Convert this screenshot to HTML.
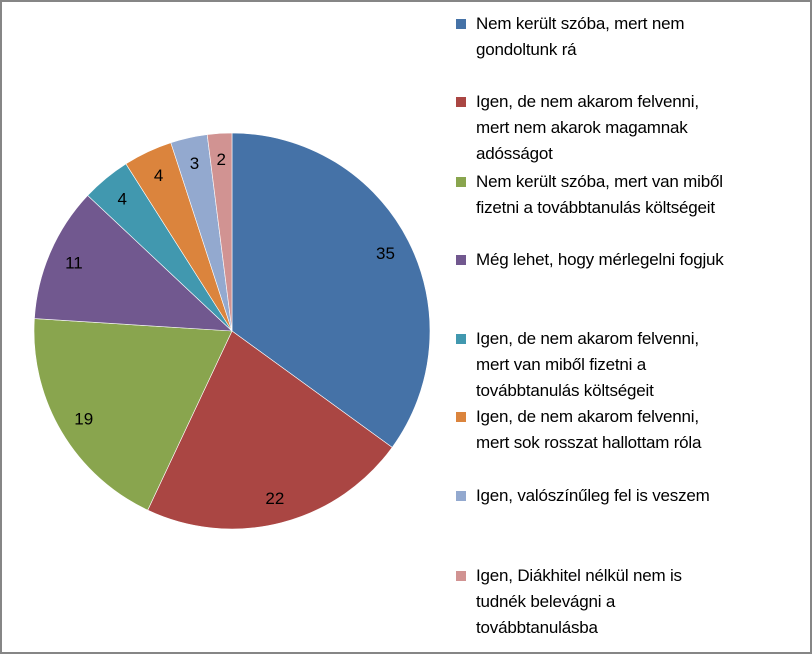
<!DOCTYPE html>
<html><head><meta charset="utf-8"><style>
body{margin:0;background:#fff}
#wrap{position:relative;width:808px;height:650px;border:2px solid #868686;background:#fff;overflow:hidden}
.leg{position:absolute;left:454px;font:17px "Liberation Sans",sans-serif;color:#000;line-height:26px;width:350px}
.sw{position:absolute;left:0;top:8px;width:10px;height:10px}
.lt{margin-left:20px;letter-spacing:-0.2px}
</style></head><body>
<div id="wrap">
<svg id="pie" width="450" height="650" style="position:absolute;left:0;top:0"></svg>
<div id="legend"></div>
</div>
<script>
const categories=["Nem került szóba, mert nem gondoltunk rá","Igen, de nem akarom felvenni, mert nem akarok magamnak adósságot","Nem került szóba, mert van miből fizetni a továbbtanulás költségeit","Még lehet, hogy mérlegelni fogjuk","Igen, de nem akarom felvenni, mert van miből fizetni a továbbtanulás költségeit","Igen, de nem akarom felvenni, mert sok rosszat hallottam róla","Igen, valószínűleg fel is veszem","Igen, Diákhitel nélkül nem is tudnék belevágni a továbbtanulásba"];
const legendLines=[["Nem került szóba, mert nem","gondoltunk rá"],["Igen, de nem akarom felvenni,","mert nem akarok magamnak","adósságot"],["Nem került szóba, mert van miből","fizetni a továbbtanulás költségeit"],["Még lehet, hogy mérlegelni fogjuk"],["Igen, de nem akarom felvenni,","mert van miből fizetni a","továbbtanulás költségeit"],["Igen, de nem akarom felvenni,","mert sok rosszat hallottam róla"],["Igen, valószínűleg fel is veszem"],["Igen, Diákhitel nélkül nem is","tudnék belevágni a","továbbtanulásba"]];
const values=[35,22,19,11,4,4,3,2];
const colors=["#4572a7","#aa4643","#89a54e","#71588f","#4198af","#db843d","#93a9cf","#d19392"];
const legendTops=[9,87,167,245,324,402,481,561];
const NS="http://www.w3.org/2000/svg";
const svg=document.getElementById('pie');
const cx=230,cy=329,r=198;
const total=values.reduce((a,b)=>a+b,0);
let a0=0;
values.forEach((v,i)=>{
  const a1=a0+v/total*2*Math.PI;
  const x0=cx+r*Math.sin(a0),y0=cy-r*Math.cos(a0),x1=cx+r*Math.sin(a1),y1=cy-r*Math.cos(a1);
  const p=document.createElementNS(NS,'path');
  p.setAttribute('d',`M${cx},${cy}L${x0},${y0}A${r},${r} 0 ${(a1-a0)>Math.PI?1:0} 1 ${x1},${y1}Z`);
  p.setAttribute('fill',colors[i]);p.setAttribute('stroke','#fff');p.setAttribute('stroke-width','0.6');
  
  
  svg.appendChild(p);
  const am=(a0+a1)/2,lr=r*0.87;
  const t=document.createElementNS(NS,'text');
  t.setAttribute('x',cx+lr*Math.sin(am));t.setAttribute('y',cy-lr*Math.cos(am)+6);
  t.setAttribute('text-anchor','middle');t.setAttribute('font-family','Liberation Sans, sans-serif');t.setAttribute('font-size','17');
  t.textContent=v;
  
  
  svg.appendChild(t);
  a0=a1;
});
const leg=document.getElementById('legend');
categories.forEach((c,i)=>{
  const d=document.createElement('div');d.className='leg';d.style.top=legendTops[i]+'px';
  
  
  d.innerHTML='<span class="sw" style="background:'+colors[i]+'"></span><div class="lt">'+legendLines[i].join('<br>')+'</div>';
  d.title=c;
  leg.appendChild(d);
});
</script>
</body></html>
